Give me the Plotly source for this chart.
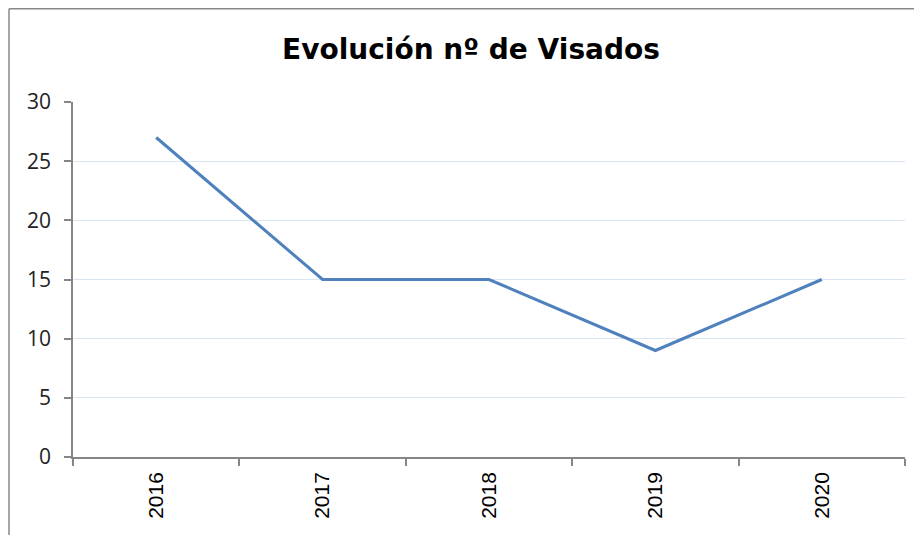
import plotly.graph_objects as go

years = ["2016", "2017", "2018", "2019", "2020"]
visados = [27, 15, 15, 9, 15]
y_ticks = [0, 5, 10, 15, 20, 25, 30]

W, H = 922, 535
OFF = 8  # page body margin offset
L, R, T, B = 73 - OFF, 17 + OFF, 102 - OFF, 78 + OFF
pw, ph = W - L - R, H - T - B

fig = go.Figure()
fig.add_trace(go.Scatter(
    x=years, y=visados, mode="lines",
    line=dict(color="#4F81BD", width=3),
    hoverinfo="x+y", showlegend=False,
))

def px_x(p):
    return (p - OFF - L) / pw

def px_y(p):
    return (H - B - (p - OFF)) / ph

# chart outer border (left and top visible)
fig.add_shape(type="line", xref="paper", yref="paper",
              x0=px_x(9), x1=px_x(9), y0=px_y(8.7), y1=px_y(560),
              line=dict(color="#888888", width=1.5))
fig.add_shape(type="line", xref="paper", yref="paper",
              x0=px_x(9), x1=px_x(940), y0=px_y(8.7), y1=px_y(8.7),
              line=dict(color="#888888", width=1.5))

fig.update_layout(
    width=W, height=H,
    margin=dict(l=L, r=R, t=T, b=B),
    paper_bgcolor="white", plot_bgcolor="white",
    title=dict(text="<b>Evolución nº de Visados</b>",
               x=(471 - OFF) / W, xanchor="center", xref="container",
               y=1 - (49 - OFF) / H, yanchor="middle", yref="container",
               font=dict(family="DejaVu Sans", size=28, color="#000000")),
    xaxis=dict(
        type="category", range=[-0.5, 4.5],
        showgrid=False, showline=True, linecolor="#868686", linewidth=1.5,
        ticks="outside", ticklen=7, tickcolor="#868686", tickwidth=1.5,
        tickson="boundaries", tickangle=-90,
        ticklabelstandoff=5,
        tickfont=dict(family="Liberation Sans", size=21, color="#000000"),
        zeroline=False,
    ),
    yaxis=dict(
        range=[0, 30], tickvals=y_ticks,
        showgrid=True, gridcolor="#D9E4F4", gridwidth=1,
        showline=True, linecolor="#868686", linewidth=1.5,
        ticks="outside", ticklen=7, tickcolor="#868686", tickwidth=1.5,
        ticklabelstandoff=9,
        tickfont=dict(family="Open Sans", size=21, color="#222222"),
        zeroline=False,
    ),
)

fig.write_html("out.html")
